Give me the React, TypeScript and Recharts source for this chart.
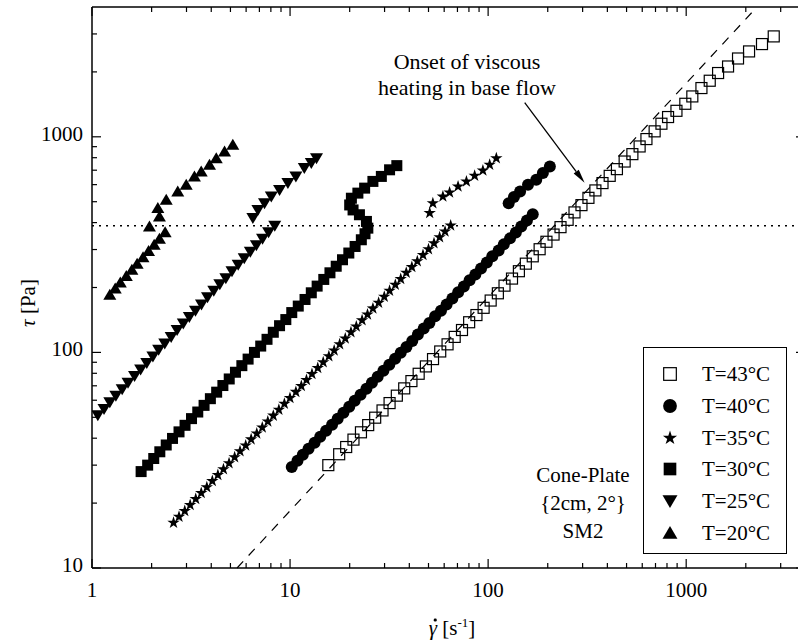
import React from "react";
import { ScatterChart, Scatter, XAxis, YAxis, ReferenceLine } from "recharts";

const FONT = '"Liberation Serif", "Times New Roman", Times, serif';
const INK = "#000";

// shear rate [1/s] and stress [Pa]
const t43Rate = [15.6, 17.7, 19.2, 20.9, 22.8, 24.8, 26.9, 29.3, 31.8, 34.6, 37.7, 41.0, 44.6, 48.5, 52.7, 57.3, 62.4, 67.8, 73.8, 80.2, 87.3, 94.9, 103, 112, 121, 132, 143, 155, 168, 182, 197, 214, 232, 252, 273, 296, 321, 348, 378, 411, 447, 489, 535, 582, 630, 693, 750, 810, 893, 990, 1074, 1194, 1315, 1449, 1627, 1827, 2077, 2414, 2767];
const t43Stress = [30, 33.7, 36.4, 39.4, 42.6, 46.0, 49.8, 53.8, 58.2, 63.0, 68.1, 73.6, 79.6, 86.1, 93.1, 101, 109, 118, 127, 138, 149, 161, 174, 188, 204, 220, 238, 258, 279, 301, 326, 352, 381, 412, 446, 482, 521, 564, 610, 659, 708, 768, 831, 902, 976, 1060, 1150, 1235, 1320, 1423, 1539, 1683, 1820, 1976, 2119, 2308, 2489, 2692, 2922];

const t40Rate = [10.2, 10.9, 11.6, 12.4, 13.3, 14.2, 15.2, 16.3, 17.4, 18.6, 19.9, 21.2, 22.7, 24.3, 25.9, 27.7, 29.6, 31.7, 33.9, 36.2, 38.7, 41.4, 44.2, 47.3, 50.5, 54.0, 57.8, 61.7, 66.0, 70.6, 75.4, 80.6, 86.2, 92.1, 98.5, 105, 113, 120, 129, 138, 147, 157, 168, 127, 135, 145, 159, 175, 189, 205];
const t40Stress = [29.4, 31.4, 33.5, 35.7, 38.1, 40.6, 43.3, 46.2, 49.2, 52.5, 56.0, 59.7, 63.6, 67.9, 72.3, 77.1, 82.3, 87.7, 93.5, 99.7, 106, 113, 121, 129, 137, 147, 156, 167, 178, 190, 202, 216, 230, 245, 261, 279, 297, 317, 338, 360, 384, 409, 437, 492, 526, 558, 599, 632, 679, 728];

const t35Rate = [2.58, 2.75, 2.94, 3.13, 3.34, 3.56, 3.80, 4.05, 4.32, 4.61, 4.92, 5.25, 5.59, 5.97, 6.36, 6.79, 7.24, 7.72, 8.23, 8.78, 9.36, 9.99, 10.7, 11.4, 12.1, 12.9, 13.8, 14.7, 15.7, 16.7, 17.8, 19.0, 20.3, 21.6, 23.1, 24.6, 26.2, 28.0, 29.9, 31.8, 34.0, 36.2, 38.6, 41.2, 43.9, 46.9, 50.0, 53.3, 56.9, 60.6, 64.7, 50.7, 52.6, 59.1, 63.9, 70.5, 77.7, 85.5, 94.1, 101.8, 110];
const t35Stress = [16.2, 17.3, 18.4, 19.6, 20.9, 22.3, 23.7, 25.3, 27.0, 28.7, 30.6, 32.6, 34.8, 37.0, 39.5, 42.1, 44.8, 47.8, 50.9, 54.2, 57.8, 61.5, 65.6, 69.9, 74.5, 79.4, 84.6, 90.1, 96.0, 102, 109, 116, 124, 132, 141, 150, 160, 170, 181, 193, 206, 219, 234, 249, 265, 283, 301, 321, 342, 364, 388, 443, 492, 528, 552, 588, 621, 660, 698, 742, 796];

const t30Rate = [1.77, 1.91, 2.05, 2.20, 2.37, 2.55, 2.75, 2.95, 3.18, 3.42, 3.68, 3.96, 4.26, 4.58, 4.93, 5.30, 5.71, 6.14, 6.61, 7.11, 7.65, 8.23, 8.85, 9.52, 10.2, 11.0, 11.9, 12.8, 13.7, 14.8, 15.9, 17.1, 18.4, 19.8, 21.3, 22.9, 23.9, 24.7, 24.3, 22.4, 20.8, 20.0, 20.4, 22.0, 23.8, 26.2, 28.9, 31.8, 34.6];
const t30Stress = [28.0, 30.0, 32.2, 34.6, 37.2, 39.9, 42.8, 45.9, 49.3, 52.9, 56.8, 61.0, 65.4, 70.2, 75.3, 80.9, 86.8, 93.1, 100, 107, 115, 124, 133, 142, 153, 164, 176, 189, 203, 218, 234, 251, 269, 289, 310, 333, 355, 377, 405, 435, 458, 483, 519, 548, 578, 621, 655, 703, 735];

const t25Rate = [1.07, 1.15, 1.23, 1.32, 1.42, 1.52, 1.64, 1.76, 1.89, 2.03, 2.17, 2.33, 2.51, 2.69, 2.89, 3.10, 3.33, 3.57, 3.83, 4.12, 4.42, 4.74, 5.09, 5.47, 5.87, 6.30, 6.76, 7.26, 7.79, 8.37, 6.49, 6.88, 7.43, 8.04, 8.85, 9.75, 10.7, 11.8, 12.8, 13.6];
const t25Stress = [51.1, 54.7, 58.7, 63.0, 67.5, 72.4, 77.7, 83.3, 89.3, 95.7, 103, 110, 118, 127, 136, 146, 156, 167, 180, 193, 207, 221, 238, 255, 273, 293, 314, 337, 361, 387, 420, 458, 492, 528, 567, 610, 654, 716, 755, 796];

const t20Rate = [1.23, 1.31, 1.39, 1.49, 1.59, 1.69, 1.81, 1.93, 2.06, 2.19, 2.34, 1.95, 2.19, 2.15, 2.37, 2.71, 2.99, 3.29, 3.56, 3.92, 4.24, 4.67, 5.14];
const t20Stress = [185, 198, 211, 226, 242, 258, 276, 295, 316, 337, 361, 384, 427, 467, 510, 558, 599, 654, 690, 741, 796, 855, 918];

const seriesLabels = ["T=43°C", "T=40°C", "T=35°C", "T=30°C", "T=25°C", "T=20°C"];

const xTicks = [1, 2, 3, 4, 5, 6, 7, 8, 9, 10, 20, 30, 40, 50, 60, 70, 80, 90, 100, 200, 300, 400, 500, 600, 700, 800, 900, 1000, 2000, 3000];
const xMajor = [1, 10, 100, 1000];
const yTicks = [10, 20, 30, 40, 50, 60, 70, 80, 90, 100, 200, 300, 400, 500, 600, 700, 800, 900, 1000, 2000, 3000];
const yMajor = [10, 100, 1000];

// Newtonian guide line, plateau stress and annotation arrow (data coords)
const newtonianLine = [{ x: 5.4, y: 10 }, { x: 2277, y: 4000 }];
const plateauStress = 387;
const onsetArrow = [{ x: 153, y: 1439 }, { x: 307, y: 612 }];

const toPoints = (rate: number[], stress: number[]) =>
  rate.map((x, i) => ({ x, y: stress[i] }));

type P = { cx?: number; cy?: number; s?: number };

const OpenSquare = ({ cx = 0, cy = 0, s = 1 }: P) => (
  <rect x={cx - 5.5 * s} y={cy - 5.5 * s} width={11 * s} height={11 * s} fill="none" stroke={INK} strokeWidth={1.2} />
);
const FilledCircle = ({ cx = 0, cy = 0, s = 1 }: P) => <circle cx={cx} cy={cy} r={6 * s} fill={INK} />;
const FilledSquare = ({ cx = 0, cy = 0, s = 1 }: P) => (
  <rect x={cx - 5.5 * s} y={cy - 5.5 * s} width={11 * s} height={11 * s} fill={INK} />
);
const StarMark = ({ cx = 0, cy = 0, s = 1 }: P) => {
  const pts: string[] = [];
  for (let k = 0; k < 10; k++) {
    const a = (-90 + 36 * k) * (Math.PI / 180);
    const r = (k % 2 ? 2.5 : 6.5) * s;
    pts.push(`${cx + r * Math.cos(a)},${cy + r * Math.sin(a)}`);
  }
  return <polygon points={pts.join(" ")} fill={INK} />;
};
const DownTriangle = ({ cx = 0, cy = 0, s = 1 }: P) => (
  <polygon
    points={`${cx - 6.5 * s},${cy - 5 * s} ${cx + 6.5 * s},${cy - 5 * s} ${cx},${cy + 6 * s}`}
    fill={INK}
  />
);
const UpTriangle = ({ cx = 0, cy = 0, s = 1 }: P) => (
  <polygon
    points={`${cx - 6.5 * s},${cy + 5 * s} ${cx + 6.5 * s},${cy + 5 * s} ${cx},${cy - 6 * s}`}
    fill={INK}
  />
);

const markers = [OpenSquare, FilledCircle, StarMark, FilledSquare, DownTriangle, UpTriangle];

const MAJOR = 9;
const MINOR = 5;

function BottomTick(props: any) {
  const { x, y, payload } = props;
  const major = xMajor.includes(payload.value);
  return (
    <g>
      <line x1={x} y1={y} x2={x} y2={y - (major ? MAJOR : MINOR)} stroke={INK} strokeWidth={1.2} />
      {major && (
        <text x={x} y={y + 29} textAnchor="middle" fontFamily={FONT} fontSize={21} fill={INK}>
          {payload.value}
        </text>
      )}
    </g>
  );
}

function TopTick(props: any) {
  const { x, y, payload } = props;
  const major = xMajor.includes(payload.value);
  return <line x1={x} y1={y} x2={x} y2={y + (major ? MAJOR : MINOR)} stroke={INK} strokeWidth={1.2} />;
}

function LeftTick(props: any) {
  const { x, y, payload } = props;
  const major = yMajor.includes(payload.value);
  return (
    <g>
      <line x1={x} y1={y} x2={x + (major ? MAJOR : MINOR)} y2={y} stroke={INK} strokeWidth={1.2} />
      {major && (
        <text x={x - 9} y={y + 4} textAnchor="end" fontFamily={FONT} fontSize={21} fill={INK}>
          {payload.value}
        </text>
      )}
    </g>
  );
}

function RightTick(props: any) {
  const { x, y, payload } = props;
  const major = yMajor.includes(payload.value);
  return <line x1={x} y1={y} x2={x - (major ? MAJOR : MINOR)} y2={y} stroke={INK} strokeWidth={1.2} />;
}

function ArrowShape(props: any) {
  const { x1, y1, x2, y2 } = props;
  if ([x1, y1, x2, y2].some((v) => typeof v !== "number" || isNaN(v))) return <g />;
  const ang = Math.atan2(y2 - y1, x2 - x1);
  const len = 14;
  const half = 3.2;
  const bx = x2 - len * Math.cos(ang);
  const by = y2 - len * Math.sin(ang);
  const px = -Math.sin(ang) * half;
  const py = Math.cos(ang) * half;
  return (
    <g>
      <line x1={x1} y1={y1} x2={bx} y2={by} stroke={INK} strokeWidth={1.3} />
      <polygon points={`${x2},${y2} ${bx + px},${by + py} ${bx - px},${by - py}`} fill={INK} />
    </g>
  );
}

const axisLine = { stroke: INK, strokeWidth: 1.5 };
const xDomain = [1, 3980];
const yDomain = [10, 4000];

export default function App() {
  const series = [
    toPoints(t43Rate, t43Stress),
    toPoints(t40Rate, t40Stress),
    toPoints(t35Rate, t35Stress),
    toPoints(t30Rate, t30Stress),
    toPoints(t25Rate, t25Stress),
    toPoints(t20Rate, t20Stress),
  ];

  return (
    <div
      style={{
        position: "absolute",
        left: 0,
        top: 0,
        width: 798,
        height: 642,
        overflow: "hidden",
        background: "#fff",
        fontFamily: FONT,
        color: INK,
      }}
    >
      <ScatterChart width={812} height={642} margin={{ top: 6, right: 6, bottom: 73, left: 91 }}>
        <XAxis
          xAxisId="b"
          dataKey="x"
          type="number"
          scale="log"
          domain={xDomain}
          allowDataOverflow
          ticks={xTicks}
          interval={0}
          tick={<BottomTick />}
          tickLine={false}
          tickSize={0}
          tickMargin={0}
          axisLine={axisLine}
          height={1}
        />
        <XAxis
          xAxisId="t"
          orientation="top"
          dataKey="x"
          type="number"
          scale="log"
          domain={xDomain}
          allowDataOverflow
          ticks={xTicks}
          interval={0}
          tick={<TopTick />}
          tickLine={false}
          tickSize={0}
          tickMargin={0}
          axisLine={axisLine}
          height={1}
        />
        <YAxis
          yAxisId="l"
          dataKey="y"
          type="number"
          scale="log"
          domain={yDomain}
          allowDataOverflow
          ticks={yTicks}
          interval={0}
          tick={<LeftTick />}
          tickLine={false}
          tickSize={0}
          tickMargin={0}
          axisLine={axisLine}
          width={1}
        />
        <YAxis
          yAxisId="r"
          orientation="right"
          dataKey="y"
          type="number"
          scale="log"
          domain={yDomain}
          allowDataOverflow
          ticks={yTicks}
          interval={0}
          tick={<RightTick />}
          tickLine={false}
          tickSize={0}
          tickMargin={0}
          axisLine={axisLine}
          width={1}
        />
        <ReferenceLine
          xAxisId="b"
          yAxisId="l"
          y={plateauStress}
          stroke={INK}
          strokeWidth={1.4}
          strokeDasharray="2 5"
        />
        <ReferenceLine
          xAxisId="b"
          yAxisId="l"
          segment={newtonianLine}
          stroke={INK}
          strokeWidth={1.2}
          strokeDasharray="9 8"
        />
        <ReferenceLine xAxisId="b" yAxisId="l" segment={onsetArrow} shape={ArrowShape} />
        {series.map((data, i) => {
          const Mark = markers[i];
          return (
            <Scatter
              key={seriesLabels[i]}
              name={seriesLabels[i]}
              xAxisId="b"
              yAxisId="l"
              data={data}
              isAnimationActive={false}
              shape={(p: any) => <Mark cx={p.cx} cy={p.cy} />}
            />
          );
        })}
      </ScatterChart>

      <div
        style={{
          position: "absolute",
          left: 367,
          top: 49,
          width: 200,
          textAlign: "center",
          fontSize: 22,
          lineHeight: "26px",
          whiteSpace: "nowrap",
        }}
      >
        Onset of viscous
        <br />
        heating in base flow
      </div>

      <div
        style={{
          position: "absolute",
          left: 503,
          top: 461,
          width: 160,
          textAlign: "center",
          fontSize: 21,
          lineHeight: "28px",
          whiteSpace: "nowrap",
        }}
      >
        Cone-Plate
        <br />
        {"{2cm, 2°}"}
        <br />
        SM2
      </div>

      <div
        style={{
          position: "absolute",
          left: 643,
          top: 347,
          width: 144,
          height: 207,
          boxSizing: "border-box",
          border: `1.5px solid ${INK}`,
          background: "#fff",
        }}
      >
        {seriesLabels.map((label, i) => {
          const Mark = markers[i];
          return (
            <div
              key={label}
              style={{
                position: "absolute",
                left: 0,
                top: 26 + i * 31.8 - 14,
                height: 28,
                width: 140,
              }}
            >
              <svg width={40} height={28} style={{ position: "absolute", left: 6, top: 0 }}>
                <Mark cx={20} cy={14} s={1.15} />
              </svg>
              <span
                style={{
                  position: "absolute",
                  left: 58,
                  top: 0,
                  fontSize: 21,
                  lineHeight: "28px",
                  whiteSpace: "nowrap",
                }}
              >
                {label}
              </span>
            </div>
          );
        })}
      </div>

      <div
        style={{
          position: "absolute",
          left: 28,
          top: 303,
          transform: "translate(-50%, -50%) rotate(-90deg)",
          fontSize: 21,
          whiteSpace: "nowrap",
        }}
      >
        <i>τ</i> [Pa]
      </div>

      <div
        style={{
          position: "absolute",
          left: 452,
          top: 625,
          transform: "translate(-50%, -50%)",
          fontSize: 21,
          lineHeight: "24px",
          whiteSpace: "nowrap",
        }}
      >
        <span style={{ position: "relative", display: "inline-block" }}>
          <i>γ</i>
          <span
            style={{
              position: "absolute",
              left: 5,
              top: 3,
              width: 2.5,
              height: 2.5,
              borderRadius: "50%",
              background: INK,
            }}
          />
        </span>{" "}
        [s<sup style={{ fontSize: 13 }}>-1</sup>]
      </div>
    </div>
  );
}
